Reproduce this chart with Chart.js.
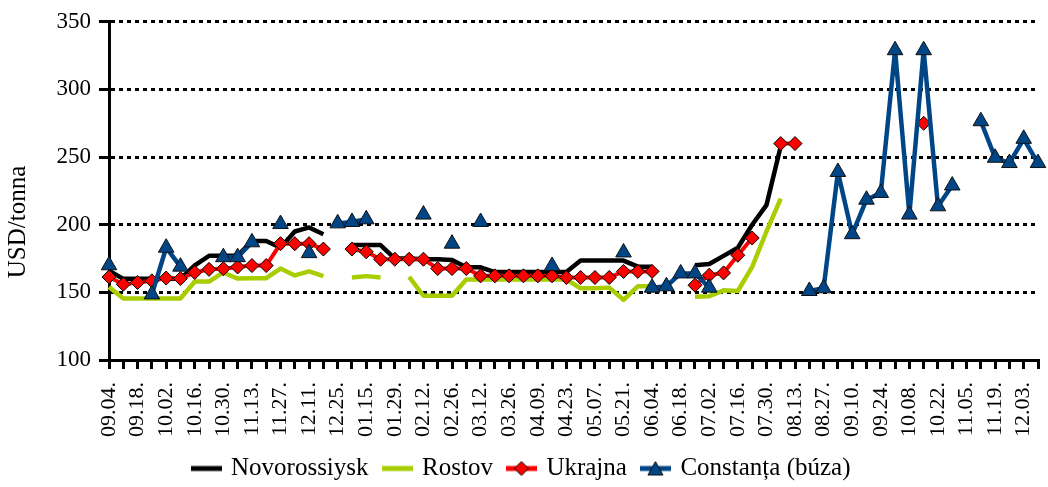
<!DOCTYPE html>
<html>
<head>
<meta charset="utf-8">
<script src="https://cdn.jsdelivr.net/npm/chart.js@4.4.0/dist/chart.umd.min.js"></script>
<style>
html,body{margin:0;padding:0;background:#fff;}
#wrap{width:1048px;height:487px;position:relative;}
</style>
</head>
<body>
<div id="wrap"><canvas id="c" width="1048" height="487"></canvas></div>
<script>
// ---- DATA ----
const categories = [
  '09.04.','09.11.','09.18.','09.25.','10.02.','10.09.','10.16.','10.23.','10.30.','11.06.',
  '11.13.','11.20.','11.27.','12.04.','12.11.','12.18.','12.25.','01.08.','01.15.','01.22.',
  '01.29.','02.05.','02.12.','02.19.','02.26.','03.05.','03.12.','03.19.','03.26.','04.02.',
  '04.09.','04.16.','04.23.','04.30.','05.07.','05.14.','05.21.','05.28.','06.04.','06.11.',
  '06.18.','06.25.','07.02.','07.09.','07.16.','07.23.','07.30.','08.06.','08.13.','08.20.',
  '08.27.','09.03.','09.10.','09.17.','09.24.','10.01.','10.08.','10.15.','10.22.','10.29.',
  '11.05.','11.12.','11.19.','11.26.','12.03.','12.10.'
];

const seriesNames = ['Novorossiysk', 'Rostov', 'Ukrajna', 'Constanța (búza)'];

const novorossiysk = [
  166,160,160,160,160,160,170,177,177,177,
  188,188,183,195,198,193,null,185,185,185,
  175,175,174.5,174.5,174,168.5,168.5,165,165,165,
  165,165,165,173.5,173.5,173.5,173.5,169,169,null,
  null,170,171,177,183,200,214.5,258,null,null,
  null,null,null,null,null,null,null,null,null,null,
  null,null,null,null,null,null
];

const rostov = [
  154,145.5,145.5,145.5,145.5,145.5,158,158,164.7,160.2,
  160.5,160.5,167.6,162.5,165.5,162,null,161,162,161,
  null,161.5,147.5,147.5,147.5,159.5,159.5,159.5,159.5,159.5,
  159.5,159.5,159.5,153,153,153.5,144.5,154.5,154.5,null,
  null,146.7,147.2,151.5,151,168.8,195,219.3,null,null,
  null,null,null,null,null,null,null,null,null,null,
  null,null,null,null,null,null
];

const ukrajna = [
  161.4,156,157.3,158.5,160.6,160.2,164.7,167,167.5,168.8,
  169.8,169.8,186,186,186,182,null,182,180,174.5,
  174.5,174.5,174.5,167.6,167.6,167.6,162.2,162.2,162.2,162.2,
  162.2,162.2,161,161,161,161,165.5,165.5,165.5,null,
  null,155.3,162.7,164.4,177.4,190.2,null,260,260,null,
  null,null,null,null,null,null,null,275,null,null,
  null,null,null,null,null,null
];

const constanta = [
  170,null,null,148.5,183,169,null,null,176,176,
  187,null,200.5,null,179,null,201,202,204,null,
  null,null,207.5,null,186,null,202,null,null,null,
  null,169.5,null,null,null,null,179.5,null,153.5,154.5,
  164,164,153.5,null,null,null,null,null,null,151,
  153,239,193,218.5,223.5,329,207.5,329,213.6,229,
  null,276.5,249.5,245.6,263.5,245.6
];

const yTicks = { min: 100, max: 350, step: 50 };
const yTitle = 'USD/tonna';

// ---- STYLE ----
const FONT = '"Liberation Serif", "Times New Roman", serif';
const C_BLACK = '#000000';
const C_GREEN = '#A8CD00';
const C_RED = '#FF0000';
const C_BLUE = '#004687';

function makeIcon(color, marker) {
  const c = document.createElement('canvas');
  c.width = 31; c.height = 20;
  const g = c.getContext('2d');
  g.strokeStyle = color; g.lineWidth = 5;
  g.beginPath(); g.moveTo(0, 10); g.lineTo(31, 10); g.stroke();
  if (marker === 'diamond') {
    g.beginPath(); g.moveTo(15.5, 3); g.lineTo(22.5, 10); g.lineTo(15.5, 17); g.lineTo(8.5, 10); g.closePath();
    g.fillStyle = C_RED; g.fill(); g.strokeStyle = '#000'; g.lineWidth = 1; g.stroke();
  } else if (marker === 'triangle') {
    g.beginPath(); g.moveTo(15.5, 3); g.lineTo(23, 16.5); g.lineTo(8, 16.5); g.closePath();
    g.fillStyle = C_BLUE; g.fill(); g.strokeStyle = '#111'; g.lineWidth = 1; g.stroke();
  }
  return c;
}
const legendIcons = [makeIcon(C_BLACK), makeIcon(C_GREEN), makeIcon(C_RED, 'diamond'), makeIcon(C_BLUE, 'triangle')];

const yTitlePlugin = {
  id: 'yTitlePlugin',
  afterDraw(chart) {
    const ctx = chart.ctx;
    ctx.save();
    ctx.translate(18, 222);
    ctx.rotate(-Math.PI / 2);
    ctx.font = '25px ' + FONT;
    ctx.fillStyle = '#000';
    ctx.textAlign = 'center';
    ctx.textBaseline = 'middle';
    ctx.fillText(yTitle, 0, 0);
    ctx.restore();
  }
};

const common = { tension: 0, spanGaps: false, fill: false, borderJoinStyle: 'round', borderCapStyle: 'butt' };

new Chart(document.getElementById('c'), {
  type: 'line',
  data: {
    labels: categories,
    datasets: [
      Object.assign({ label: seriesNames[0], data: novorossiysk, borderColor: C_BLACK, backgroundColor: C_BLACK, borderWidth: 4.5, pointRadius: 0, order: 4 }, common),
      Object.assign({ label: seriesNames[1], data: rostov, borderColor: C_GREEN, backgroundColor: C_GREEN, borderWidth: 4.5, pointRadius: 0, order: 3 }, common),
      Object.assign({ label: seriesNames[2], data: ukrajna, borderColor: C_RED, backgroundColor: C_RED, borderWidth: 4,
        pointStyle: 'rectRot', pointRadius: 7, pointBackgroundColor: C_RED, pointBorderColor: '#000', pointBorderWidth: 1, order: 2 }, common),
      Object.assign({ label: seriesNames[3], data: constanta, borderColor: C_BLUE, backgroundColor: C_BLUE, borderWidth: 4.5,
        pointStyle: 'triangle', pointRadius: 9, pointBackgroundColor: C_BLUE, pointBorderColor: '#111', pointBorderWidth: 1, order: 1 }, common)
    ]
  },
  options: {
    responsive: false,
    animation: false,
    devicePixelRatio: 1,
    layout: { padding: { top: 21, right: 4, bottom: 0, left: 0 } },
    plugins: {
      legend: {
        position: 'bottom',
        maxHeight: 47,
        labels: {
          usePointStyle: true,
          pointStyleWidth: 25,
          padding: 16,
          color: '#000',
          font: { family: FONT, size: 25 },
          generateLabels: (chart) => chart.data.datasets.map((ds, i) => ({
            text: ds.label, pointStyle: legendIcons[i], datasetIndex: i, hidden: false,
            lineWidth: 0, fillStyle: ds.borderColor, strokeStyle: ds.borderColor, fontColor: '#000'
          }))
        }
      },
      tooltip: { enabled: false }
    },
    scales: {
      x: {
        type: 'category',
        offset: false,
        afterFit: (s) => { s.height = 80; s.paddingLeft = 0; s.paddingRight = 0; },
        grid: { display: true, drawOnChartArea: false, drawTicks: true, tickLength: 9, tickWidth: 3, tickColor: '#000', color: '#000', lineWidth: 3 },
        border: { display: true, color: '#000', width: 3 },
        ticks: {
          autoSkip: false, maxRotation: 90, minRotation: 90, padding: 13,
          color: '#000', font: { family: FONT, size: 22 },
          callback: function (val, idx) { return idx % 2 === 0 ? this.getLabelForValue(val) : ''; }
        }
      },
      y: {
        min: yTicks.min, max: yTicks.max,
        afterFit: (s) => { s.width = 109; },
        grid: {
          display: true, drawOnChartArea: true, drawTicks: true, tickLength: 10, tickWidth: 3, tickColor: '#000',
          lineWidth: 3,
          color: (ctx) => (ctx.tick && ctx.tick.value === yTicks.min) ? 'rgba(0,0,0,0)' : '#000'
        },
        border: { display: true, color: '#000', width: 3, dash: [4, 4] },
        ticks: { stepSize: yTicks.step, padding: 8, color: '#000', font: { family: FONT, size: 23 } }
      }
    }
  },
  plugins: [yTitlePlugin]
});
</script>
</body>
</html>
